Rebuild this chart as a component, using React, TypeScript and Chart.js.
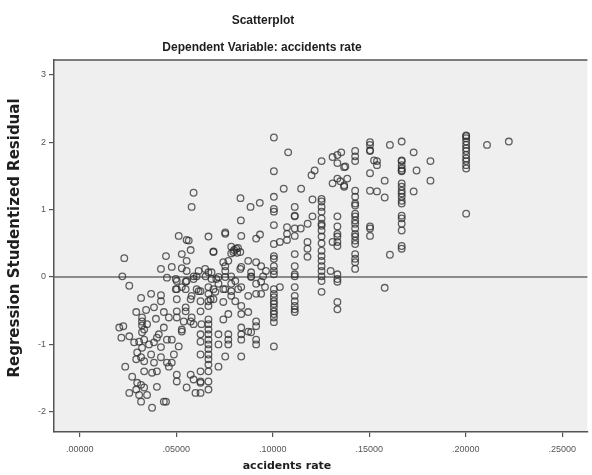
import React, { useEffect, useRef } from "react";
import { Chart, registerables } from "chart.js";

Chart.register(...registerables);

// Tick labels
const xTickValues = [0, 0.05, 0.1, 0.15, 0.2, 0.25];
const yTickValues = [-2, -1, 0, 1, 2, 3];

// Vertical stacks of cases sharing one accident rate: [rate, residuals]
const col1006 = [2.07, 1.57, 1.19, 1.01, 0.97, 0.77, 0.49, 0.31, 0.27, 0.16, 0.09, 0.04, -0.18, -0.25, -0.3, -0.36, -0.4, -0.45, -0.51, -0.55, -0.6, -0.67, -1.03];
const col1114 = [1.04, 0.91, 0.9, 0.72, 0.61, 0.34, 0.16, 0.04, 0.01, -0.15, -0.28, -0.36, -0.43, -0.48, -0.52];
const col1253 = [1.72, 1.16, 1.12, 1.04, 0.97, 0.87, 0.79, 0.76, 0.69, 0.6, 0.5, 0.39, 0.31, 0.24, 0.16, 0.09, 0.01, -0.06, -0.22];
const col1335 = [1.81, 1.69, 1.46, 0.9, 0.75, 0.64, 0.6, 0.52, 0.46, 0.04, -0.03, -0.07, -0.37, -0.48];
const col1427 = [1.87, 1.79, 1.72, 1.28, 1.19, 1.09, 1.06, 0.94, 0.9, 0.84, 0.79, 0.72, 0.64, 0.6, 0.54, 0.49, 0.34, 0.27, 0.22, 0.12];
const col1504 = [2.0, 1.96, 1.88, 1.87, 1.54, 1.28, 0.75, 0.72, 0.61];
const col1668 = [2.01, 1.73, 1.72, 1.66, 1.61, 1.58, 1.57, 1.39, 1.34, 1.28, 1.24, 1.19, 1.13, 1.09, 0.91, 0.87, 0.79, 0.69, 0.46, 0.42];
const col2002 = [2.1, 2.09, 2.06, 2.01, 1.96, 1.91, 1.87, 1.81, 1.76, 1.72, 1.66, 1.61, 0.94];
const col0667 = [-0.15, -0.25, -0.36, -0.43, -0.63, -0.7, -0.78, -0.85, -0.93, -1.0, -1.07, -1.15, -1.22, -1.3, -1.4, -1.55, -1.67];

const columns: [number, number[]][] = [
  [0.1006, col1006],
  [0.1114, col1114],
  [0.1253, col1253],
  [0.1335, col1335],
  [0.1427, col1427],
  [0.1504, col1504],
  [0.1668, col1668],
  [0.2002, col2002],
  [0.0667, col0667],
];

// Scattered cases: [accidents rate, studentized residual]
const upperScatter: [number, number][] = [
  [0.108, 1.85], [0.1057, 1.31], [0.1147, 1.31], [0.1206, 1.15], [0.0833, 1.17], [0.0885, 1.04],
  [0.0933, 1.1], [0.1074, 0.74], [0.1074, 0.64], [0.1145, 0.72], [0.1181, 0.79], [0.1206, 0.9],
  [0.1201, 1.51], [0.1217, 1.58], [0.131, 1.78], [0.1355, 1.85], [0.137, 1.63], [0.135, 1.42],
  [0.131, 1.39], [0.137, 1.34], [0.1376, 1.64], [0.1386, 1.46], [0.137, 1.36], [0.1525, 1.73],
  [0.154, 1.72], [0.154, 1.66], [0.154, 1.27], [0.158, 1.18], [0.158, 1.43], [0.1607, 1.96],
  [0.173, 1.85], [0.1607, 0.33], [0.1745, 1.58], [0.173, 1.27], [0.1817, 1.72], [0.1817, 1.43],
  [0.211, 1.96], [0.2223, 2.01], [0.158, -0.16], [0.1037, 0.52], [0.1074, 0.55], [0.118, 0.52],
  [0.118, 0.42], [0.118, 0.3], [0.131, 0.52], [0.1037, -0.15], [0.13, 0.09],
];

const midScatter: [number, number][] = [
  [0.0835, 0.84], [0.0667, 0.6], [0.0754, 0.64], [0.0837, 0.61], [0.0914, 0.57], [0.0934, 0.63],
  [0.0693, 0.38], [0.0785, 0.45], [0.08, 0.4], [0.0816, 0.36], [0.082, 0.43], [0.0785, 0.35],
  [0.0744, 0.22], [0.0754, 0.16], [0.0837, 0.15], [0.0873, 0.24], [0.0914, 0.22], [0.094, 0.16],
  [0.0888, 0.07], [0.065, 0.12], [0.0667, 0.07], [0.059, 1.25], [0.058, 1.04], [0.0513, 0.61],
  [0.0554, 0.55], [0.0575, 0.4], [0.0529, 0.34], [0.0554, 0.24], [0.0447, 0.31], [0.0421, 0.12],
  [0.0477, 0.15], [0.0529, 0.13], [0.0554, 0.09], [0.0231, 0.28], [0.0221, 0.01], [0.0606, 0.01],
  [0.0565, 0.54], [0.0754, 0.66], [0.0693, 0.37], [0.0796, 0.37], [0.0811, 0.42], [0.0832, 0.37],
  [0.077, 0.24], [0.0498, -0.03], [0.0549, -0.07], [0.059, -0.03], [0.0616, 0.09], [0.0652, 0.01],
  [0.0683, 0.07], [0.0708, -0.03], [0.0754, 0.09], [0.0785, 0.01], [0.0832, 0.12], [0.0888, 0.01],
  [0.0914, -0.1], [0.094, -0.07], [0.095, 0.01], [0.0965, 0.09],
];

const lowScatter: [number, number][] = [
  [0.0626, -1.72], [0.0626, -1.55], [0.0626, -1.15], [0.0626, -0.96], [0.0626, -0.85], [0.0626, -0.51],
  [0.0719, -0.85], [0.0719, -1.0], [0.0719, -1.33], [0.0754, -1.18], [0.077, -0.85], [0.077, -0.93],
  [0.077, -1.0], [0.0837, -0.75], [0.0837, -0.85], [0.0837, -0.93], [0.0873, -0.81], [0.0837, -1.18],
  [0.0914, -0.66], [0.0914, -0.73], [0.0914, -0.93], [0.0914, -1.0], [0.0888, -0.82], [0.0744, -0.63],
  [0.077, -0.55], [0.0837, -0.43], [0.0873, -0.52], [0.0837, -0.55], [0.0914, -0.25], [0.094, -0.25],
  [0.096, -0.15], [0.0693, -0.18], [0.0693, -0.33], [0.0719, -0.1], [0.0744, -0.18], [0.0744, -0.37],
  [0.0785, -0.1], [0.0785, -0.21], [0.0806, -0.06], [0.0821, -0.18], [0.0754, 0.0], [0.0683, -0.03],
  [0.0719, 0.0], [0.0626, -0.21], [0.0626, -0.36], [0.0498, -0.18], [0.0503, -0.33], [0.0549, -0.18],
  [0.058, -0.28], [0.0616, -0.21], [0.0678, -0.33], [0.0703, -0.22], [0.0754, -0.18], [0.0785, -0.28],
  [0.0806, -0.36], [0.0837, -0.15], [0.0873, -0.28], [0.0888, 0.0],
  [0.0257, -0.13], [0.0318, -0.31], [0.037, -0.25], [0.0421, -0.27], [0.0421, -0.36], [0.0452, -0.01],
  [0.0293, -0.52], [0.0344, -0.49], [0.0323, -0.6], [0.0349, -0.7], [0.0334, -0.78], [0.0205, -0.75],
  [0.0226, -0.73], [0.0216, -0.9], [0.0257, -0.88], [0.0282, -0.97], [0.0308, -0.96], [0.0334, -0.93],
  [0.0359, -1.0], [0.0385, -0.97], [0.04, -0.9], [0.0421, -1.04], [0.0298, -1.12], [0.0318, -1.19],
  [0.0293, -1.22], [0.0334, -1.25], [0.037, -1.15], [0.0385, -1.27], [0.0421, -1.19], [0.0452, -1.27],
  [0.04, -1.4], [0.0375, -1.42], [0.0334, -1.4], [0.0236, -1.33], [0.0272, -1.48], [0.0298, -1.57],
  [0.0318, -1.6], [0.0334, -1.64], [0.0257, -1.72], [0.0293, -1.67], [0.0308, -1.75], [0.0349, -1.75],
  [0.0318, -1.85], [0.0375, -1.94], [0.04, -1.63], [0.0436, -1.85], [0.0462, -0.6], [0.0503, -0.6],
  [0.0529, -0.78], [0.0503, -0.51], [0.0549, -0.51], [0.058, -0.6], [0.0452, -0.93], [0.0477, -0.93],
  [0.0488, -1.15], [0.0513, -1.03], [0.0477, -1.27], [0.0462, -1.33], [0.0503, -1.45], [0.0503, -1.55],
  [0.0554, -1.64], [0.0575, -1.45], [0.059, -1.52], [0.0626, -1.57], [0.0626, -1.4], [0.06, -1.72],
  [0.0503, -0.06], [0.0503, -0.18], [0.0529, -0.15], [0.0554, -0.06], [0.0575, -0.33], [0.059, 0.01],
  [0.0606, -0.18], [0.0549, -0.45], [0.0575, -0.66], [0.059, -0.7], [0.0631, -0.7], [0.0539, -0.66],
  [0.0529, -0.81], [0.0447, -1.85], [0.0323, -0.66], [0.0323, -0.72], [0.0323, -0.82], [0.0323, -1.05],
  [0.0385, -0.45], [0.0436, -0.52], [0.0395, -0.62], [0.0436, -0.75], [0.041, -0.85],
];

const TITLE = "Scatterplot";
const SUBTITLE = "Dependent Variable: accidents rate";
const X_TITLE = "accidents rate";
const Y_TITLE = "Regression Studentized Residual";

export default function App() {
  const ref = useRef<HTMLCanvasElement | null>(null);

  useEffect(() => {
    document.body.style.margin = "0";
    const canvas = ref.current;
    if (!canvas) return;

    const points: { x: number; y: number }[] = [];
    columns.forEach(([rate, vals]) => vals.forEach((v) => points.push({ x: rate, y: v })));
    [...upperScatter, ...midScatter, ...lowScatter].forEach(([x, y]) => points.push({ x, y }));

    const tickFont = { family: "'Liberation Sans Narrow', 'Liberation Sans', Arial, sans-serif", size: 9 };

    const decor = {
      id: "decor",
      beforeDraw(chart: any) {
        const { ctx, chartArea: a } = chart;
        ctx.save();
        ctx.fillStyle = "#ffffff";
        ctx.fillRect(0, 0, chart.width, chart.height);
        ctx.fillStyle = "#efefef";
        ctx.fillRect(a.left, a.top, a.right - a.left, a.bottom - a.top);
        ctx.restore();
      },
      beforeDatasetsDraw(chart: any) {
        const { ctx, chartArea: a, scales } = chart;
        const y0 = scales.y.getPixelForValue(0);
        ctx.save();
        ctx.strokeStyle = "#6a6a6a";
        ctx.lineWidth = 1.5;
        ctx.beginPath();
        ctx.moveTo(a.left, y0);
        ctx.lineTo(a.right, y0);
        ctx.stroke();
        ctx.strokeStyle = "#555";
        ctx.lineWidth = 1.5;
        ctx.beginPath();
        ctx.moveTo(a.left, a.top);
        ctx.lineTo(a.right, a.top);
        ctx.stroke();
        ctx.restore();
      },
      afterDraw(chart: any) {
        const { ctx } = chart;
        ctx.save();
        ctx.fillStyle = "#1e1e1e";
        ctx.textAlign = "center";
        ctx.textBaseline = "middle";
        ctx.font = "bold 12px 'Liberation Sans', Arial, sans-serif";
        ctx.fillText(TITLE, 263, 21);
        ctx.fillText(SUBTITLE, 262, 48);
        ctx.font = "bold 11px 'DejaVu Sans', sans-serif";
        ctx.fillText(X_TITLE, 287, 466);
        ctx.translate(15, 238);
        ctx.rotate(-Math.PI / 2);
        ctx.font = "bold 15px 'DejaVu Sans', sans-serif";
        ctx.fillText(Y_TITLE, 0, 0);
        ctx.restore();
      },
    };

    const chart = new Chart(canvas, {
      type: "scatter",
      data: {
        datasets: [
          {
            data: points,
            pointRadius: 3.3,
            pointHoverRadius: 3.3,
            borderWidth: 1.3,
            borderColor: "rgba(45,45,45,0.75)",
            backgroundColor: "rgba(0,0,0,0)",
          },
        ],
      },
      options: {
        responsive: false,
        animation: false,
        devicePixelRatio: 1,
        layout: { padding: { top: 60, left: 0, right: 0, bottom: 0 } },
        plugins: { legend: { display: false }, tooltip: { enabled: false }, title: { display: false } },
        scales: {
          x: {
            type: "linear",
            min: -0.0133,
            max: 0.263,
            afterFit: (s: any) => { s.height = 43; },
            afterBuildTicks: (s: any) => { s.ticks = xTickValues.map((v) => ({ value: v })); },
            ticks: {
              font: tickFont,
              color: "#555",
              padding: 7,
              maxRotation: 0,
              callback: (v: any) => Number(v).toFixed(5).replace(/^0/, ""),
            },
            grid: { drawOnChartArea: false, drawTicks: true, tickLength: 5, color: "#555", lineWidth: 1.2 },
            border: { display: true, color: "#555", width: 1.5 },
          },
          y: {
            type: "linear",
            min: -2.3,
            max: 3.22,
            afterFit: (s: any) => { s.width = 54; },
            afterBuildTicks: (s: any) => { s.ticks = yTickValues.map((v) => ({ value: v })); },
            ticks: { font: tickFont, color: "#555", padding: 3, callback: (v: any) => String(v) },
            grid: { drawOnChartArea: false, drawTicks: true, tickLength: 5, color: "#555", lineWidth: 1.2 },
            border: { display: true, color: "#555", width: 1.5 },
          },
        },
      },
      plugins: [decor],
    });
    return () => chart.destroy();
  }, []);

  return (
    <div style={{ width: 592, height: 475 }}>
      <canvas ref={ref} width={592} height={475} style={{ display: "block" }} />
    </div>
  );
}
